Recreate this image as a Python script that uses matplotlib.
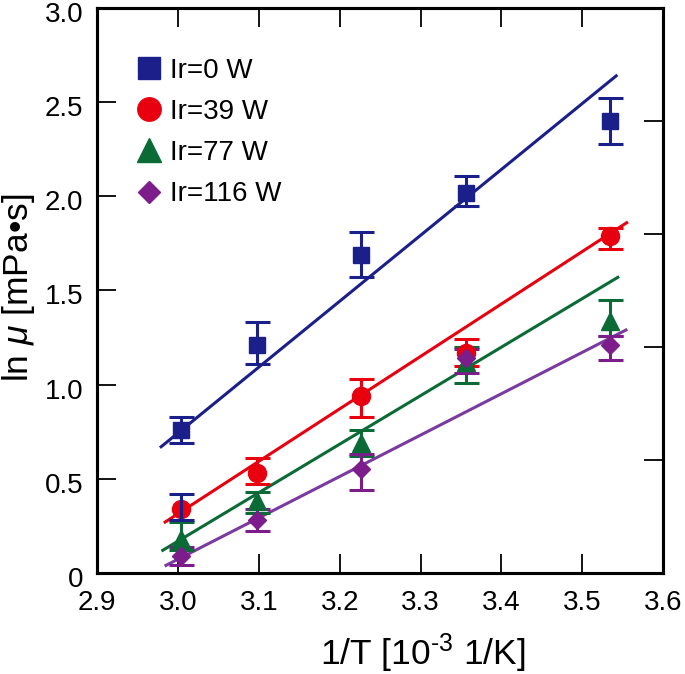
import matplotlib
matplotlib.use("Agg")
import matplotlib.pyplot as plt
import matplotlib.transforms as mtrans

plt.rcParams['font.family'] = ['Liberation Sans', 'DejaVu Sans']
plt.rcParams['mathtext.fontset'] = 'custom'
plt.rcParams['mathtext.rm'] = 'Liberation Sans'
plt.rcParams['mathtext.it'] = 'Liberation Sans:italic'

# datos
inv_T = [3.003, 3.097, 3.226, 3.356, 3.534]

labels = ["Ir=0 W", "Ir=39 W", "Ir=77 W", "Ir=116 W"]

y_0 = [0.76, 1.21, 1.69, 2.02, 2.40]
lo_0 = [0.69, 1.11, 1.57, 1.95, 2.28]
hi_0 = [0.83, 1.335, 1.81, 2.11, 2.52]

y_39 = [0.34, 0.53, 0.94, 1.17, 1.79]
lo_39 = [0.28, 0.47, 0.83, 1.10, 1.72]
hi_39 = [0.42, 0.61, 1.03, 1.24, 1.83]

y_77 = [0.18, 0.38, 0.69, 1.12, 1.34]
lo_77 = [0.12, 0.32, 0.62, 1.01, 1.26]
hi_77 = [0.27, 0.43, 0.76, 1.20, 1.45]

y_116 = [0.09, 0.28, 0.55, 1.14, 1.21]
lo_116 = [0.04, 0.22, 0.44, 1.06, 1.13]
hi_116 = [0.14, 0.34, 0.63, 1.19, 1.26]

# rectas de ajuste (extremos)
fit_x_0 = [2.979, 3.542]
fit_y_0 = [0.67, 2.64]
fit_x_39 = [2.984, 3.555]
fit_y_39 = [0.27, 1.86]
fit_x_77 = [2.981, 3.544]
fit_y_77 = [0.12, 1.57]
fit_x_116 = [2.985, 3.554]
fit_y_116 = [0.04, 1.29]

x_ticks = [2.9, 3.0, 3.1, 3.2, 3.3, 3.4, 3.5, 3.6]
x_ticklabels = ["2.9", "3.0", "3.1", "3.2", "3.3", "3.4", "3.5", "3.6"]
y_ticks = [0, 0.5, 1.0, 1.5, 2.0, 2.5, 3.0]
y_ticklabels = ["0", "0.5", "1.0", "1.5", "2.0", "2.5", "3.0"]
right_ticks = [0.6, 1.2, 1.8, 2.4]

blue = "#1b1f8a"
red = "#e8000f"
green = "#0a6b36"
purple = "#7d1d8c"
purple_line = "#7a3aa0"

fig = plt.figure(figsize=(6.85, 6.74), dpi=100)
ax = fig.add_axes([0.142, 0.150, 0.826, 0.838])

series = [
    (y_0, lo_0, hi_0, fit_x_0, fit_y_0, blue, blue, "s", 12),
    (y_39, lo_39, hi_39, fit_x_39, fit_y_39, red, red, "o", 13),
    (y_77, lo_77, hi_77, fit_x_77, fit_y_77, green, green, "^", 13),
    (y_116, lo_116, hi_116, fit_x_116, fit_y_116, purple, purple_line, "D", 9),
]

for i, (y, lo, hi, fx, fy, c, lc, m, ms) in enumerate(series):
    ax.plot(fx, fy, color=lc, lw=2.2, zorder=2)
    err = [[yy - l for yy, l in zip(y, lo)], [h - yy for yy, h in zip(y, hi)]]
    if i == 1:
        # la primera barra roja aparece en azul en el original
        ax.errorbar(inv_T[1:], y[1:], yerr=[err[0][1:], err[1][1:]], fmt="none",
                    ecolor=c, elinewidth=2.2, capsize=9, capthick=2.2, zorder=3)
        ax.plot(inv_T, y, ls="none", marker=m, ms=ms, color=c, zorder=4, label=labels[i])
        ax.errorbar(inv_T[:1], y[:1], yerr=[err[0][:1], err[1][:1]], fmt="none",
                    ecolor=blue, elinewidth=2.2, capsize=9, capthick=2.2, zorder=5)
    else:
        ax.errorbar(inv_T, y, yerr=err, fmt="none", ecolor=c, elinewidth=2.2,
                    capsize=9, capthick=2.2, zorder=3)
        ax.plot(inv_T, y, ls="none", marker=m, ms=ms, color=c, zorder=4, label=labels[i])

ax.set_xlim(2.9, 3.6)
ax.set_ylim(0, 3.0)
ax.set_xticks(x_ticks)
ax.set_xticklabels(x_ticklabels)
ax.set_yticks(y_ticks)
ax.set_yticklabels(y_ticklabels)
ax.tick_params(direction="in", length=14, width=1.3, labelsize=20, top=True, right=False)
ax.tick_params(axis="y", pad=10)
ax.tick_params(axis="x", pad=12)
# las etiquetas del eje y van un poco mas abajo en el original
offset = mtrans.ScaledTranslation(0, -4 / 100, fig.dpi_scale_trans)
for lab in ax.get_yticklabels():
    lab.set_transform(lab.get_transform() + offset)
for s in ax.spines.values():
    s.set_linewidth(2.2)

ax2 = ax.twinx()
ax2.set_ylim(0, 3.0)
ax2.set_yticks(right_ticks)
ax2.tick_params(direction="in", length=14, width=1.3, labelright=False)
for s in ax2.spines.values():
    s.set_linewidth(2.2)

ax.set_xlabel("1/T [10$^{\u2010 3}$ 1/K]", fontsize=25.5)
ax.xaxis.set_label_coords(0.576, -0.103)
ax.xaxis.label.set_va("top")
ax.set_ylabel("ln $\\mathit{\\mu}$ [mPa•s]", fontsize=25.5)
ax.yaxis.set_label_coords(-0.14, 0.504)
ax.yaxis.label.set_va("center")

leg = ax.legend(loc="upper left", bbox_to_anchor=(0.042, 0.932), frameon=False, fontsize=20,
                handletextpad=0.15, labelspacing=0.55, handlelength=1.2, markerscale=1.3,
                borderaxespad=0)

fig.savefig("out.png", dpi=100)
